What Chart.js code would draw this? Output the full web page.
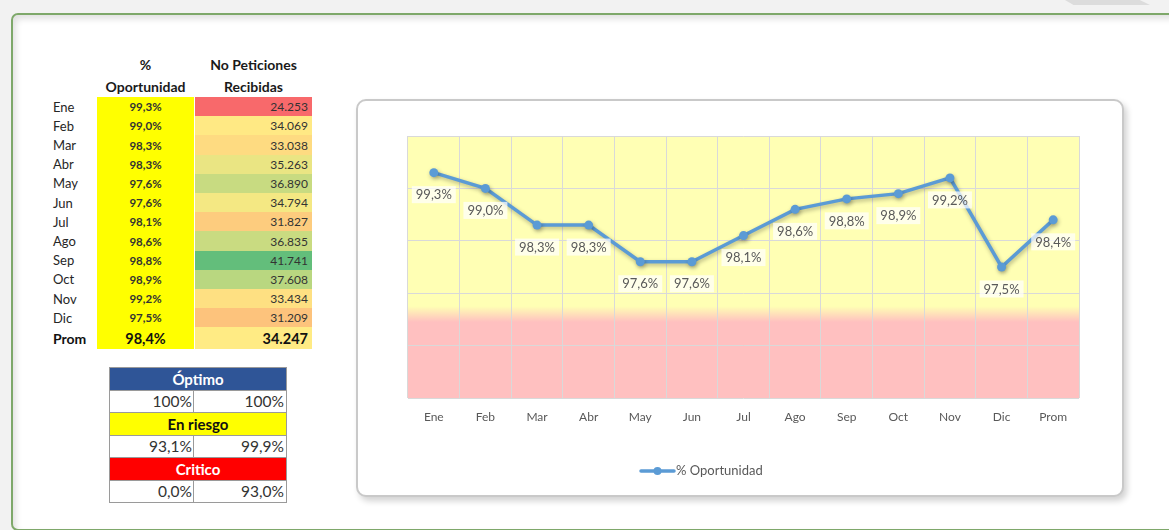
<!DOCTYPE html>
<html lang="es">
<head>
<meta charset="utf-8">
<title>% Oportunidad</title>
<script src="https://cdn.jsdelivr.net/npm/chart.js@4.4.1/dist/chart.umd.min.js"></script>
<style>
  html, body { margin: 0; padding: 0; }
  body {
    width: 1169px; height: 530px; overflow: hidden; position: relative;
    background: #f2f2f2; font-family: Lato, "Noto Sans", sans-serif; color: #262626;
  }
  .franja { position: absolute; top: 0; height: 5px; background: #dcdcdc; }
  #marco {
    position: absolute; left: 11px; top: 13px; width: 1200px; height: 514px;
    background: #fff; border: 2px solid #7ea86a; border-radius: 7px;
    box-shadow: inset 3px 4px 6px rgba(0,0,0,0.12);
  }
  .celda {
    position: absolute; box-sizing: border-box; display: flex; align-items: center;
    white-space: nowrap; overflow: hidden;
  }
  #tarjeta {
    position: absolute; left: 356px; top: 99px; width: 768px; height: 398px;
    box-sizing: border-box; border: 2px solid #c9c9c9; border-radius: 10px;
    background: #fff; box-shadow: 3px 4px 6px rgba(0,0,0,0.18);
  }
  #grafico { display: block; }
</style>
</head>
<body>
<div class="franja" style="left:1065px;width:85px;clip-path:polygon(0 0,88% 0,100% 100%,10% 100%);"></div>
<div id="marco"></div>
<div id="tabla"></div>
<div id="tarjeta"><canvas id="grafico" width="764" height="394"></canvas></div>

<script>
// datos mensuales
const meses = ['Ene', 'Feb', 'Mar', 'Abr', 'May', 'Jun', 'Jul', 'Ago', 'Sep', 'Oct', 'Nov', 'Dic'];
const oportunidad = [99.3, 99.0, 98.3, 98.3, 97.6, 97.6, 98.1, 98.6, 98.8, 98.9, 99.2, 97.5];
const peticiones = [24253, 34069, 33038, 35263, 36890, 34794, 31827, 36835, 41741, 37608, 33434, 31209];
const etiquetaProm = 'Prom';
const promOportunidad = 98.4;
const promPeticiones = 34247;

// rangos del indicador
const rangoNombres = ['Óptimo', 'En riesgo', 'Critico'];
const rangoDesde = ['100%', '93,1%', '0,0%'];
const rangoHasta = ['100%', '99,9%', '93,0%'];

const pct = v => v.toFixed(1).replace('.', ',') + '%';
const miles = v => String(v).replace(/\B(?=(\d{3})+(?!\d))/g, '.');

// escala de color rojo - amarillo - verde (como el formato condicional)
const colRojo = [248, 105, 107], colAmarillo = [255, 235, 132], colVerde = [99, 190, 123];
const todasPeticiones = peticiones.concat(promPeticiones);
const ordenadas = todasPeticiones.slice().sort((a, b) => a - b);
const pMin = ordenadas[0], pMax = ordenadas[ordenadas.length - 1];
const pMed = ordenadas[Math.floor(ordenadas.length / 2)];

function mezcla(a, b, t) {
  return 'rgb(' + a.map((c, i) => Math.round(c + (b[i] - c) * t)).join(',') + ')';
}
function colorEscala(v) {
  if (v <= pMed) return mezcla(colRojo, colAmarillo, (v - pMin) / (pMed - pMin));
  return mezcla(colAmarillo, colVerde, (v - pMed) / (pMax - pMed));
}

const tabla = document.getElementById('tabla');
function celda(x, y, w, h, texto, estilo) {
  const d = document.createElement('div');
  d.className = 'celda';
  Object.assign(d.style, { left: x + 'px', top: y + 'px', width: w + 'px', height: h + 'px' }, estilo || {});
  d.textContent = texto;
  tabla.appendChild(d);
  return d;
}

// encabezados
const encab = { fontWeight: '700', fontSize: '14px', justifyContent: 'center', color: '#1a1a1a' };
celda(97, 53, 97, 22, '%', encab);
celda(97, 75, 97, 22, 'Oportunidad', encab);
celda(195, 53, 117, 22, 'No Peticiones', encab);
celda(195, 75, 117, 22, 'Recibidas', encab);

// filas de meses
const altoFila = 19.2;
meses.forEach((m, i) => {
  const y = 97 + i * altoFila;
  celda(50, y, 46, altoFila, m, { fontSize: '13px', paddingLeft: '3px', color: '#262626' });
  celda(97, y, 97, altoFila + 0.4, pct(oportunidad[i]),
    { background: '#ffff00', justifyContent: 'center', fontWeight: '700', fontSize: '11.5px', color: '#333' });
  celda(195, y, 117, altoFila + 0.4, miles(peticiones[i]),
    { background: colorEscala(peticiones[i]), justifyContent: 'flex-end', paddingRight: '4px', fontSize: '12px', color: '#333' });
});

// fila de promedio
const yProm = 97 + meses.length * altoFila;
celda(50, yProm, 46, 21.6, etiquetaProm, { fontSize: '14px', fontWeight: '700', paddingLeft: '3px', color: '#111' });
celda(97, yProm, 97, 21.6, pct(promOportunidad),
  { background: '#ffff00', justifyContent: 'center', fontWeight: '700', fontSize: '14.5px', color: '#111' });
celda(195, yProm, 117, 21.6, miles(promPeticiones),
  { background: colorEscala(promPeticiones), justifyContent: 'flex-end', paddingRight: '4px', fontWeight: '700', fontSize: '14.5px', color: '#111' });

// tabla de rangos
const fondosRango = ['#2f5597', '#ffff00', '#ff0000'];
const textoRango = ['#ffffff', '#111111', '#ffffff'];
const altoRango = 22.5;
rangoNombres.forEach((nombre, i) => {
  const y = 367 + i * 2 * altoRango;
  celda(109, y, 178, altoRango, nombre, {
    background: fondosRango[i], color: textoRango[i], fontWeight: '700', fontSize: '15px',
    justifyContent: 'center', border: '1px solid #9a9a9a', borderBottom: 'none'
  });
  const val = { fontSize: '15.5px', justifyContent: 'flex-end', paddingRight: '2px', color: '#333',
    border: '1px solid #9a9a9a', background: '#fff' };
  celda(109, y + altoRango, 85, altoRango + (i === 2 ? 1 : 0), rangoDesde[i], Object.assign({}, val, { borderRight: 'none', borderBottom: i === 2 ? '1px solid #9a9a9a' : 'none' }));
  celda(193, y + altoRango, 94, altoRango + (i === 2 ? 1 : 0), rangoHasta[i], Object.assign({}, val, { borderBottom: i === 2 ? '1px solid #9a9a9a' : 'none' }));
});

// fondo del área de trazado: amarillo arriba, rosa abajo
const fondoZonas = {
  id: 'fondoZonas',
  beforeDraw(chart) {
    const { ctx, chartArea: a, scales: { y } } = chart;
    const g = ctx.createLinearGradient(0, y.getPixelForValue(96.75), 0, y.getPixelForValue(96.45));
    g.addColorStop(0, '#ffffb4');
    g.addColorStop(1, '#ffc0c0');
    ctx.save();
    ctx.fillStyle = g;
    ctx.fillRect(a.left, a.top, a.width, a.height);
    ctx.restore();
  }
};

const sombra = {
  id: 'sombra',
  beforeDatasetsDraw(chart) {
    const c = chart.ctx;
    c.save();
    c.shadowColor = 'rgba(0,0,0,0.3)';
    c.shadowBlur = 4;
    c.shadowOffsetX = 1;
    c.shadowOffsetY = 2;
  },
  afterDatasetsDraw(chart) {
    chart.ctx.restore();
  }
};

// etiquetas de valor debajo de cada punto
const etiquetas = {
  id: 'etiquetas',
  afterDatasetsDraw(chart) {
    const { ctx } = chart;
    const meta = chart.getDatasetMeta(0);
    const valores = chart.data.datasets[0].data;
    ctx.save();
    ctx.font = '13px Lato';
    ctx.textAlign = 'center';
    ctx.textBaseline = 'middle';
    meta.data.forEach((p, i) => {
      const txt = pct(valores[i]);
      const w = ctx.measureText(txt).width + 8;
      const cy = p.y + 22;
      ctx.fillStyle = 'rgba(255,255,255,0.72)';
      ctx.fillRect(p.x - w / 2, cy - 8.5, w, 17);
      ctx.fillStyle = '#595959';
      ctx.fillText(txt, p.x, cy + 0.5);
    });
    ctx.restore();
  }
};

const leyenda = {
  id: 'leyenda',
  afterDraw(chart) {
    const { ctx, chartArea: a } = chart;
    const ds = chart.data.datasets[0];
    const x0 = a.left + 233, y0 = a.bottom + 73;
    ctx.save();
    ctx.strokeStyle = ds.borderColor;
    ctx.lineWidth = 3.5;
    ctx.lineCap = 'round';
    ctx.beginPath();
    ctx.moveTo(x0, y0);
    ctx.lineTo(x0 + 33, y0);
    ctx.stroke();
    ctx.fillStyle = ds.borderColor;
    ctx.beginPath();
    ctx.arc(x0 + 16.5, y0, 4, 0, Math.PI * 2);
    ctx.fill();
    ctx.font = '13px Lato';
    ctx.fillStyle = '#595959';
    ctx.textBaseline = 'middle';
    ctx.fillText(ds.label, x0 + 35, y0);
    ctx.restore();
  }
};

const ctx = document.getElementById('grafico').getContext('2d');
const chart = new Chart(ctx, {
  type: 'line',
  data: {
    labels: meses.concat(etiquetaProm),
    datasets: [{
      label: '% Oportunidad',
      data: oportunidad.concat(promOportunidad),
      borderColor: '#5b9bd5',
      backgroundColor: '#5b9bd5',
      borderWidth: 3.5,
      tension: 0,
      pointRadius: 4.5,
      pointHoverRadius: 4.5,
      pointBorderWidth: 0,
      pointBackgroundColor: '#5b9bd5',
    }]
  },
  options: {
    responsive: false,
    animation: false,
    layout: { padding: { left: 50, right: 43, top: 35, bottom: 57 } },
    scales: {
      x: {
        offset: true,
        grid: { offset: true, color: '#d9d9d9', drawTicks: false },
        border: { display: false },
        ticks: { color: '#595959', font: { family: 'Lato', size: 12 }, padding: 12 },
        afterFit(s) { s.height = 40; }
      },
      y: {
        min: 95,
        max: 100,
        ticks: { display: false, stepSize: 1 },
        grid: { color: '#d9d9d9', drawTicks: false },
        border: { display: false },
        afterFit(s) { s.width = 0; }
      }
    },
    plugins: {
      legend: { display: false },
      tooltip: { enabled: false }
    }
  },
  plugins: [fondoZonas, sombra, etiquetas, leyenda]
});
</script>
</body>
</html>
